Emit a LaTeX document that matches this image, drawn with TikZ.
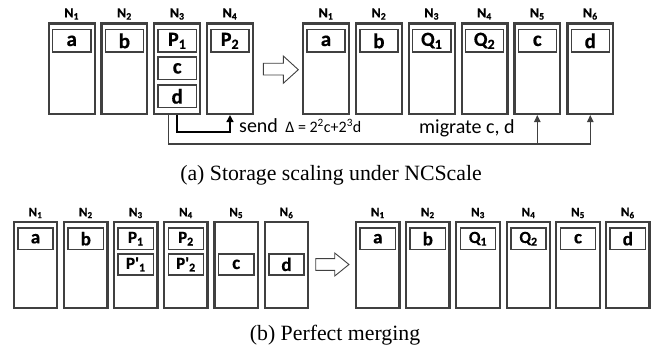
\documentclass[tikz,border=0pt]{standalone}
\usepackage{fontspec}
\setmainfont{Liberation Serif}
\newfontfamily\carl[BoldFeatures={FakeBold=0.6}]{Carlito}
\usetikzlibrary{arrows.meta}
\definecolor{boxgray}{HTML}{404040}
\definecolor{linegray}{HTML}{404040}
\tikzset{
  obox/.style={draw=boxgray, line width=2.2pt, rectangle, inner sep=0pt},
  toptall/.style={obox, minimum width=45.8pt, minimum height=90.5pt},
  bottall/.style={obox, minimum width=43.3pt, minimum height=85.8pt},
  ibox/.style={draw=boxgray, line width=1.5pt, rectangle, inner sep=0pt, font=\carl\bfseries\fontsize{21}{21}\selectfont},
  topin/.style={ibox, minimum width=38.1pt, minimum height=22.2pt},
  botin/.style={ibox, minimum width=35.2pt, minimum height=21.2pt, font=\carl\bfseries\fontsize{19}{19}\selectfont},
  nlab/.style={inner sep=0pt, font=\carl\bfseries\fontsize{14}{14}\selectfont},
  nlabs/.style={inner sep=0pt, font=\carl\bfseries\fontsize{13}{13}\selectfont},
  hollow/.style={draw=boxgray, line width=0.9pt, fill=white, line join=miter},
  sendline/.style={color=black, line width=1.6pt, -{Triangle[length=7pt,width=7pt]}},
  migline/.style={color=linegray, line width=1.2pt, -{Triangle[length=7pt,width=6.5pt,fill=linegray]}},
  caption/.style={inner sep=0pt, font=\fontsize{21.8}{22}\selectfont},
  txt/.style={inner sep=0pt, anchor=west, font=\carl\fontsize{20}{20}\selectfont}
}
\newcommand{\Pcap}[2]{{\fontsize{20}{20}\selectfont #1\textsubscript{#2}}}
\begin{document}
\begin{tikzpicture}[x=1pt,y=-1pt]
\useasboundingbox (0,0) rectangle (662,352);
% ---------------- top panel, before ----------------
\foreach \i/\x in {1/71.7,2/124.4,3/177.2,4/230}{
  \node[toptall] (L\i) at (\x,68.7) {};
  \node[nlab] (LN\i) at (\x,14) {N\textsubscript{\i}};
}
\node[topin] (La) at (71.7,40.85) {a};
\node[topin] (Lb) at (124.4,40.85) {b};
\node[topin] (LP1) at (177.2,40.85) {\Pcap{P}{1}};
\node[topin] (Lc) at (177.2,68.35) {c};
\node[topin] (Ld) at (177.2,96.3) {d};
\node[topin] (LP2) at (230,40.85) {\Pcap{P}{2}};
% hollow arrow
\draw[hollow] (263.3,63.3) -- (283.3,63.3) -- (283.3,56) -- (298.3,69.7) -- (283.3,83.3) -- (283.3,75) -- (263.3,75) -- cycle;
% ---------------- top panel, after ----------------
\foreach \i/\x in {1/326,2/378.9,3/431.7,4/484.5,5/537.3,6/590.3}{
  \node[toptall] (R\i) at (\x,68.7) {};
  \node[nlab] (RN\i) at (\x,14) {N\textsubscript{\i}};
}
\node[topin] (Ra) at (326,40.85) {a};
\node[topin] (Rb) at (378.9,40.85) {b};
\node[topin] (RQ1) at (431.7,40.85) {\Pcap{Q}{1}};
\node[topin] (RQ2) at (484.5,40.85) {\Pcap{Q}{2}};
\node[topin] (Rc) at (537.3,40.85) {c};
\node[topin] (Rd) at (590.3,40.85) {d};
% connectors
\draw[sendline] (L3.south) -- ++(0,17) -| (L4.south);
\coordinate (mbase) at (0,144);
\draw[migline] ([xshift=-9pt]L3.south) |- (mbase -| R6.south) -- (R6.south);
\draw[migline] (mbase -| R5.south) -- (R5.south);
\node[txt] (send) at (239,126) {send {\fontsize{16}{16}\selectfont $\,$Δ = 2\textsuperscript{2}c+2\textsuperscript{3}d}};
\node[txt] (mig) at (419,128.5) {migrate c, d};
\node[caption] (capa) at (331,175) {(a) Storage scaling under NCScale};
% ---------------- bottom panel, before ----------------
\foreach \i/\x in {1/35.5,2/85.8,3/135.8,4/185.9,5/236.2,6/286.5}{
  \node[bottall] (B\i) at (\x,265) {};
  \node[nlabs] (BN\i) at (\x,213) {N\textsubscript{\i}};
}
\node[botin] (Ba) at (35.5,238.7) {a};
\node[botin] (Bb) at (85.8,238.7) {b};
\node[botin] (BP1) at (135.8,238.7) {\fontsize{17}{17}\selectfont P\textsubscript{1}};
\node[botin] (BPp1) at (135.8,264.4) {\fontsize{17}{17}\selectfont P'\textsubscript{1}};
\node[botin] (BP2) at (185.9,238.7) {\fontsize{17}{17}\selectfont P\textsubscript{2}};
\node[botin] (BPp2) at (185.9,264.4) {\fontsize{17}{17}\selectfont P'\textsubscript{2}};
\node[botin] (Bc) at (236.2,264.4) {c};
\node[botin] (Bd) at (286.5,264.4) {d};
\draw[hollow] (315.7,258.6) -- (334.7,258.6) -- (334.7,253) -- (349,264.5) -- (334.7,276) -- (334.7,270.4) -- (315.7,270.4) -- cycle;
% ---------------- bottom panel, after ----------------
\foreach \i/\x in {1/377.8,2/427.8,3/478,4/528.5,5/578,6/627.8}{
  \node[bottall] (S\i) at (\x,265) {};
  \node[nlabs] (SN\i) at (\x,213) {N\textsubscript{\i}};
}
\node[botin] (Sa) at (377.8,238.7) {a};
\node[botin] (Sb) at (427.8,238.7) {b};
\node[botin] (SQ1) at (478,238.7) {\fontsize{17}{17}\selectfont Q\textsubscript{1}};
\node[botin] (SQ2) at (528.5,238.7) {\fontsize{17}{17}\selectfont Q\textsubscript{2}};
\node[botin] (Sc) at (578,238.7) {c};
\node[botin] (Sd) at (627.8,238.7) {d};
\node[caption] (capb) at (335,335) {(b) Perfect merging};
\end{tikzpicture}
\end{document}
